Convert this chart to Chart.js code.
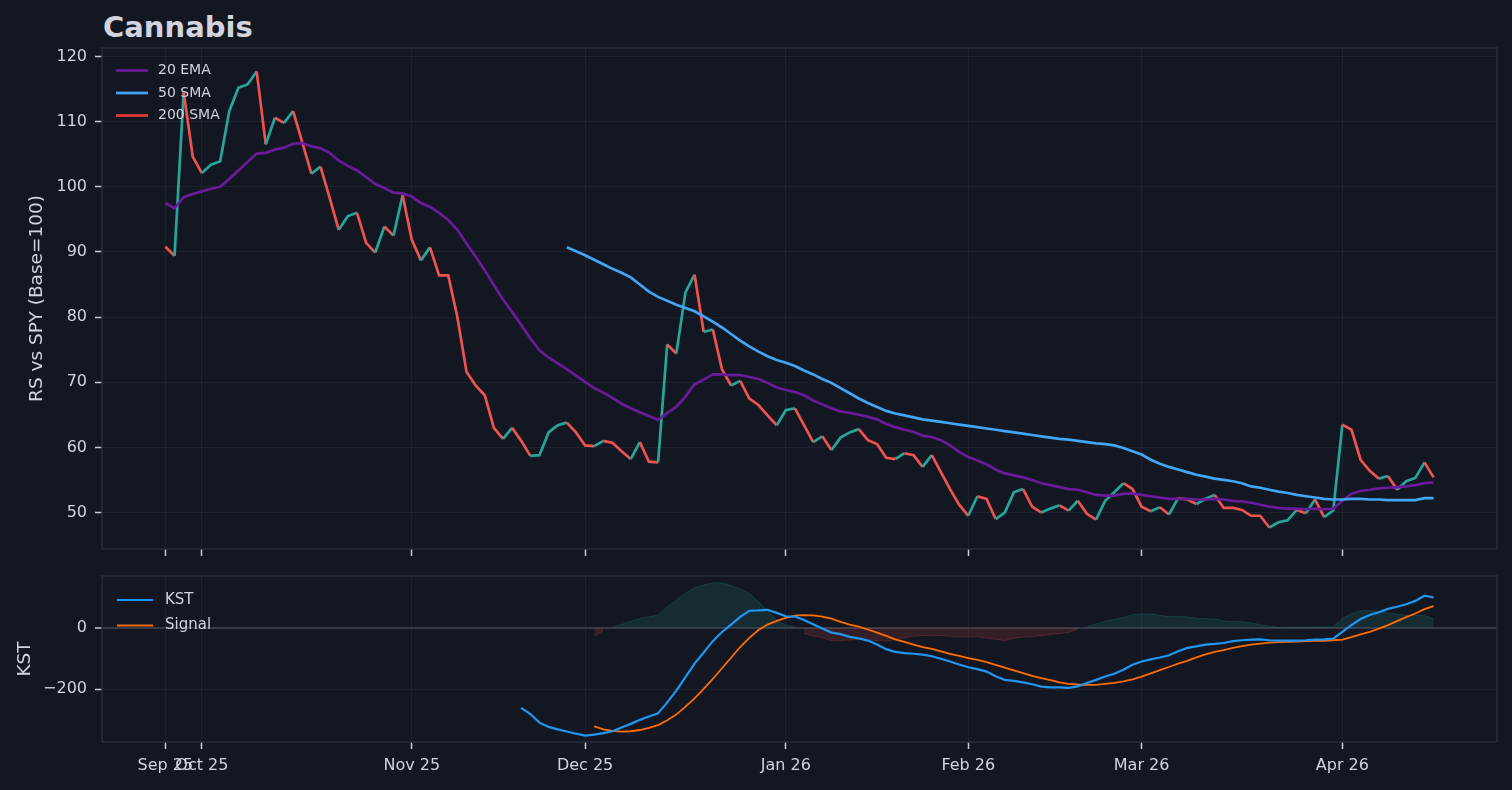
<!DOCTYPE html>
<html>
<head>
<meta charset="utf-8">
<script src="https://cdn.jsdelivr.net/npm/chart.js@4.4.0/dist/chart.umd.min.js"></script>
<style>
  html, body { margin: 0; padding: 0; background: #131722; }
  body { width: 1512px; height: 790px; position: relative; overflow: hidden; }
  #title { position: absolute; left: 103px; top: 13px; font: bold 29px "DejaVu Sans", sans-serif; line-height: 29px; color: #d1d4dc; }
  canvas { position: absolute; left: 0; }
  #rsChart { top: 0; }
  #kstChart { top: 556px; }
</style>
</head>
<body>
<div id="title">Cannabis</div>
<canvas id="rsChart" width="1512" height="569"></canvas>
<canvas id="kstChart" width="1512" height="234"></canvas>
<script>
// x = trading-day index, 0 is the first session (Sep 25 2025)
const tickDays = [0, 4, 27, 46, 68, 88, 107, 129];
const tickLabels = ['Sep 25', 'Oct 25', 'Nov 25', 'Dec 25', 'Jan 26', 'Feb 26', 'Mar 26', 'Apr 26'];
const rsTicks = [50, 60, 70, 80, 90, 100, 110, 120];
const kstTicks = [-200, 0];

// relative strength vs SPY, one value per session
const rsValues = [
    90.8, 89.4, 114.5, 104.6, 102.1, 103.4, 103.9, 111.6, 115.2, 115.7,
    117.7, 106.5, 110.6, 109.8, 111.6, 106.8, 102.0, 103.1, 98.3, 93.4,
    95.5, 96.0, 91.4, 89.9, 93.9, 92.5, 98.7, 91.9, 88.7, 90.7,
    86.4, 86.4, 80.0, 71.6, 69.5, 68.0, 63.0, 61.3, 63.0, 61.0,
    58.7, 58.8, 62.3, 63.4, 63.8, 62.3, 60.3, 60.2, 61.0, 60.7,
    59.4, 58.2, 60.8, 57.8, 57.7, 75.8, 74.4, 83.8, 86.5, 77.7,
    78.1, 72.0, 69.5, 70.2, 67.5, 66.5, 64.9, 63.4, 65.7, 66.0,
    63.4, 60.8, 61.7, 59.6, 61.5, 62.3, 62.8, 61.1, 60.5, 58.4,
    58.2, 59.1, 58.8, 57.0, 58.8, 56.2, 53.6, 51.2, 49.5, 52.5,
    52.1, 49.0, 50.0, 53.1, 53.6, 50.9, 50.0, 50.6, 51.1, 50.3,
    51.8, 49.8, 48.9, 51.8, 53.1, 54.5, 53.6, 50.9, 50.2, 50.8,
    49.7, 52.2, 52.0, 51.3, 52.1, 52.7, 50.7, 50.7, 50.4, 49.5,
    49.5, 47.7, 48.5, 48.8, 50.4, 49.9, 52.0, 49.3, 50.3, 63.5,
    62.7, 58.1, 56.4, 55.2, 55.6, 53.5, 54.8, 55.3, 57.7, 55.4
];

const ema20 = [
    97.5, 96.7, 98.4, 98.9, 99.3, 99.7, 100.0, 101.2, 102.5, 103.8,
    105.1, 105.2, 105.7, 106.0, 106.6, 106.7, 106.2, 105.9, 105.2, 104.0,
    103.2, 102.5, 101.5, 100.4, 99.8, 99.1, 99.0, 98.5, 97.5, 96.9,
    96.0, 94.9, 93.4, 91.3, 89.3, 87.2, 84.9, 82.7, 80.8, 78.8,
    76.7, 74.9, 73.8, 72.9, 72.0, 71.0, 70.0, 69.1, 68.4, 67.6,
    66.7, 66.0, 65.4, 64.8, 64.2, 65.3, 66.2, 67.8, 69.7, 70.4,
    71.2, 71.2, 71.1, 71.1, 70.8, 70.5, 69.9, 69.2, 68.8, 68.5,
    68.0, 67.2, 66.6, 66.0, 65.5, 65.3, 65.0, 64.7, 64.3, 63.6,
    63.1, 62.7, 62.4, 61.8, 61.6, 61.1, 60.3, 59.3, 58.5, 58.0,
    57.4, 56.6, 56.0, 55.7, 55.4, 55.0, 54.5, 54.2, 53.9, 53.6,
    53.5, 53.1, 52.7, 52.6, 52.6, 52.9, 52.9, 52.7, 52.5, 52.3,
    52.1, 52.1, 52.1, 52.0, 52.0, 52.1, 52.0, 51.8, 51.7, 51.5,
    51.2, 50.9, 50.7, 50.6, 50.6, 50.5, 50.6, 50.5, 50.6, 51.8,
    52.9, 53.3, 53.5, 53.7, 53.8, 53.9, 54.0, 54.2, 54.5, 54.6
];

const sma50Start = 44;
const sma50 = [
    90.7, 90.1, 89.5, 88.8, 88.1, 87.4, 86.8, 86.1, 85.0, 83.9,
    83.1, 82.5, 81.9, 81.4, 80.9, 80.1, 79.3, 78.4, 77.4, 76.4,
    75.5, 74.7, 74.0, 73.4, 73.0, 72.5, 71.8, 71.2, 70.5, 69.9,
    69.1, 68.3, 67.5, 66.8, 66.2, 65.6, 65.2, 64.9, 64.6, 64.3,
    64.1, 63.9, 63.7, 63.5, 63.3, 63.1, 62.9, 62.7, 62.5, 62.3,
    62.1, 61.9, 61.7, 61.5, 61.3, 61.2, 61.0, 60.8, 60.6, 60.5,
    60.3, 59.9, 59.4, 58.9, 58.1, 57.5, 57.0, 56.6, 56.2, 55.8,
    55.5, 55.2, 55.0, 54.8, 54.5, 54.0, 53.8, 53.5, 53.2, 53.0,
    52.7, 52.5, 52.3, 52.1, 52.0, 52.0, 52.1, 52.1, 52.0, 52.0,
    51.9, 51.9, 51.9, 51.9, 52.2, 52.2
];

// not enough history yet, it only shows up in the legend
const sma200 = [];

const kstStart = 39;
const kst = [
    -261, -281, -309, -323, -331, -338, -345, -351, -348, -343,
    -337, -325, -313, -300, -289, -279, -243, -205, -161, -117,
    -81, -44, -14, 10, 35, 55, 56, 58, 48, 37,
    36, 25, 11, -3, -16, -21, -30, -35, -42, -55,
    -70, -79, -83, -85, -88, -93, -101, -110, -120, -129,
    -135, -143, -158, -170, -173, -178, -184, -192, -194, -194,
    -196, -191, -180, -170, -159, -150, -137, -121, -110, -103,
    -97, -90, -77, -66, -61, -55, -53, -50, -44, -41,
    -39, -38, -41, -42, -42, -42, -41, -39, -38, -36,
    -14, 8, 28, 41, 50, 61, 68, 76, 87, 104,
    98
];

const signalStart = 47;
const signal = [
    -321, -331, -336, -338, -337, -333, -326, -317, -301, -283,
    -257, -230, -199, -167, -132, -98, -63, -33, -8, 10,
    22, 32, 39, 41, 40, 36, 29, 19, 10, 3,
    -6, -16, -27, -38, -46, -55, -63, -69, -77, -85,
    -92, -99, -105, -112, -121, -130, -139, -148, -157, -164,
    -171, -178, -183, -185, -186, -186, -183, -180, -175, -168,
    -159, -149, -138, -128, -117, -108, -97, -87, -79, -73,
    -66, -60, -55, -52, -49, -47, -46, -45, -44, -43,
    -43, -41, -39, -31, -22, -14, -3, 8, 21, 34,
    46, 60, 70
];

const histStart = 47;
const kstHist = [
    -27, -10, 1, 10, 21, 30, 35, 41, 68, 90,
    112, 130, 139, 146, 145, 137, 126, 112, 85, 55,
    25, 8, 1, -19, -27, -33, -43, -42, -40, -38,
    -40, -42, -43, -40, -33, -28, -26, -25, -26, -28,
    -30, -30, -30, -34, -38, -42, -35, -31, -30, -26,
    -22, -19, -16, -5, 2, 12, 20, 27, 33, 42,
    45, 44, 40, 36, 36, 35, 31, 29, 28, 22,
    20, 19, 15, 10, 4, 1, 1, 1, 1, 2,
    2, 3, 30, 45, 54, 56, 53, 48, 44, 40,
    40, 40, 28
];

const TEXT = '#d1d4dc';
const GRID = '#1e222d';
const FRAME = '#2a2e39';
const ZERO = '#363a45';
const TICK = '#c8cbd2';
const UP = '#26a69a';
const DOWN = '#ef5350';

Chart.defaults.font.family = '"DejaVu Sans", sans-serif';
Chart.defaults.color = TEXT;

const toPoints = (values, start = 0) => values.map((v, i) => ({ x: start + i, y: v }));

// split the histogram so each sign gets its own colour, like fill_between(where=...)
const histPoints = (keep) => kstHist.map((v, i) => ({ x: histStart + i, y: keep(v) ? v : null }));

/**
 * Plot frame (all four spines)
 */
const framePlugin = {
    id: 'frame',
    beforeDatasetsDraw(chart) {
        const { ctx, chartArea: a } = chart;
        ctx.save();
        ctx.strokeStyle = FRAME;
        ctx.lineWidth = 1.5;
        ctx.strokeRect(a.left, a.top, a.right - a.left, a.bottom - a.top);
        ctx.restore();
    }
};

/**
 * Legend drawn inside the plot, top-left
 */
const insideLegend = {
    id: 'insideLegend',
    afterDatasetsDraw(chart, args, opts) {
        const { ctx, chartArea } = chart;
        const items = chart.data.datasets.filter(d => d.inLegend);
        ctx.save();
        ctx.font = `${opts.size}px "DejaVu Sans", sans-serif`;
        ctx.textBaseline = 'middle';
        items.forEach((d, i) => {
            const x = chartArea.left + opts.left;
            const y = chartArea.top + opts.top + i * opts.gap;
            ctx.strokeStyle = d.borderColor;
            ctx.lineWidth = d.borderWidth;
            ctx.beginPath();
            ctx.moveTo(x, y);
            ctx.lineTo(x + opts.line, y);
            ctx.stroke();
            ctx.fillStyle = TEXT;
            ctx.fillText(d.label, x + opts.line + opts.pad, y);
        });
        ctx.restore();
    }
};

function xScale(showLabels) {
    return {
        type: 'linear',
        min: -6.95,
        max: 145.95,
        afterBuildTicks: s => { s.ticks = tickDays.map(v => ({ value: v })); },
        afterFit: s => { s.height = showLabels ? 48 : 20; },
        grid: { color: GRID, lineWidth: 1, tickLength: 7, tickColor: TICK, tickWidth: 1.5 },
        border: { display: false },
        ticks: {
            display: showLabels,
            autoSkip: false,
            maxRotation: 0,
            padding: 7,
            color: TEXT,
            font: { size: 16 },
            callback: (v, i) => tickLabels[i]
        }
    };
}

function yScale(min, max, ticks, width, title, isZero) {
    return {
        min,
        max,
        afterBuildTicks: s => { s.ticks = ticks.map(v => ({ value: v })); },
        afterFit: s => { s.width = width; },
        grid: {
            color: c => (isZero && c.tick && c.tick.value === 0) ? ZERO : GRID,
            lineWidth: c => (isZero && c.tick && c.tick.value === 0) ? 2 : 1,
            tickLength: 7,
            tickColor: TICK,
            tickWidth: 1.5
        },
        border: { display: false },
        ticks: {
            padding: 8,
            color: TEXT,
            font: { size: 16 },
            callback: v => v < 0 ? '\u2212' + Math.abs(v) : String(v)
        },
        title: {
            display: true,
            text: title,
            color: TEXT,
            font: { size: 18.5 },
            padding: { top: 4, bottom: 4 }
        }
    };
}

const lineBase = { pointRadius: 0, pointHoverRadius: 0, tension: 0, fill: false };

new Chart(document.getElementById('rsChart'), {
    type: 'line',
    data: {
        datasets: [
            {
                ...lineBase,
                label: 'RS',
                data: toPoints(rsValues),
                borderWidth: 2.7,
                borderColor: UP,
                segment: {
                    borderColor: c => c.p1.parsed.y > c.p0.parsed.y ? UP : DOWN
                },
                order: 4
            },
            { ...lineBase, label: '20 EMA', inLegend: true, data: toPoints(ema20), borderColor: '#6a1b9a', borderWidth: 2.7, order: 3 },
            { ...lineBase, label: '50 SMA', inLegend: true, data: toPoints(sma50, sma50Start), borderColor: '#42a5f5', borderWidth: 2.7, order: 2 },
            { ...lineBase, label: '200 SMA', inLegend: true, data: toPoints(sma200), borderColor: '#e53935', borderWidth: 2.7, order: 1 }
        ]
    },
    options: {
        responsive: false,
        animation: false,
        layout: { padding: { top: 48, right: 15, left: 22, bottom: 0 } },
        scales: {
            x: xScale(false),
            y: yScale(44.4, 121.3, rsTicks, 80, 'RS vs SPY (Base=100)', false)
        },
        plugins: {
            legend: { display: false },
            tooltip: { enabled: false },
            insideLegend: { left: 14, top: 22.5, gap: 22.5, line: 32, pad: 10, size: 14 }
        }
    },
    plugins: [framePlugin, insideLegend]
});

new Chart(document.getElementById('kstChart'), {
    type: 'line',
    data: {
        datasets: [
            {
                ...lineBase,
                label: 'hist+',
                data: histPoints(v => v >= 0),
                borderColor: 'rgba(38, 166, 154, 0.22)',
                backgroundColor: 'rgba(38, 166, 154, 0.15)',
                borderWidth: 1,
                fill: 'origin',
                spanGaps: false,
                order: 4
            },
            {
                ...lineBase,
                label: 'hist-',
                data: histPoints(v => v < 0),
                borderColor: 'rgba(239, 83, 80, 0.22)',
                backgroundColor: 'rgba(239, 83, 80, 0.15)',
                borderWidth: 1,
                fill: 'origin',
                spanGaps: false,
                order: 3
            },
            { ...lineBase, label: 'KST', inLegend: true, data: toPoints(kst, kstStart), borderColor: '#2196f3', borderWidth: 2.2, order: 1 },
            { ...lineBase, label: 'Signal', inLegend: true, data: toPoints(signal, signalStart), borderColor: '#ff6d00', borderWidth: 1.8, order: 2 }
        ]
    },
    options: {
        responsive: false,
        animation: false,
        layout: { padding: { top: 20, right: 15, left: 10, bottom: 0 } },
        scales: {
            x: xScale(true),
            y: yScale(-372, 168, kstTicks, 92, 'KST', true)
        },
        plugins: {
            legend: { display: false },
            tooltip: { enabled: false },
            insideLegend: { left: 15, top: 24, gap: 25.5, line: 36, pad: 12, size: 15 }
        }
    },
    plugins: [framePlugin, insideLegend]
});
</script>
</body>
</html>
